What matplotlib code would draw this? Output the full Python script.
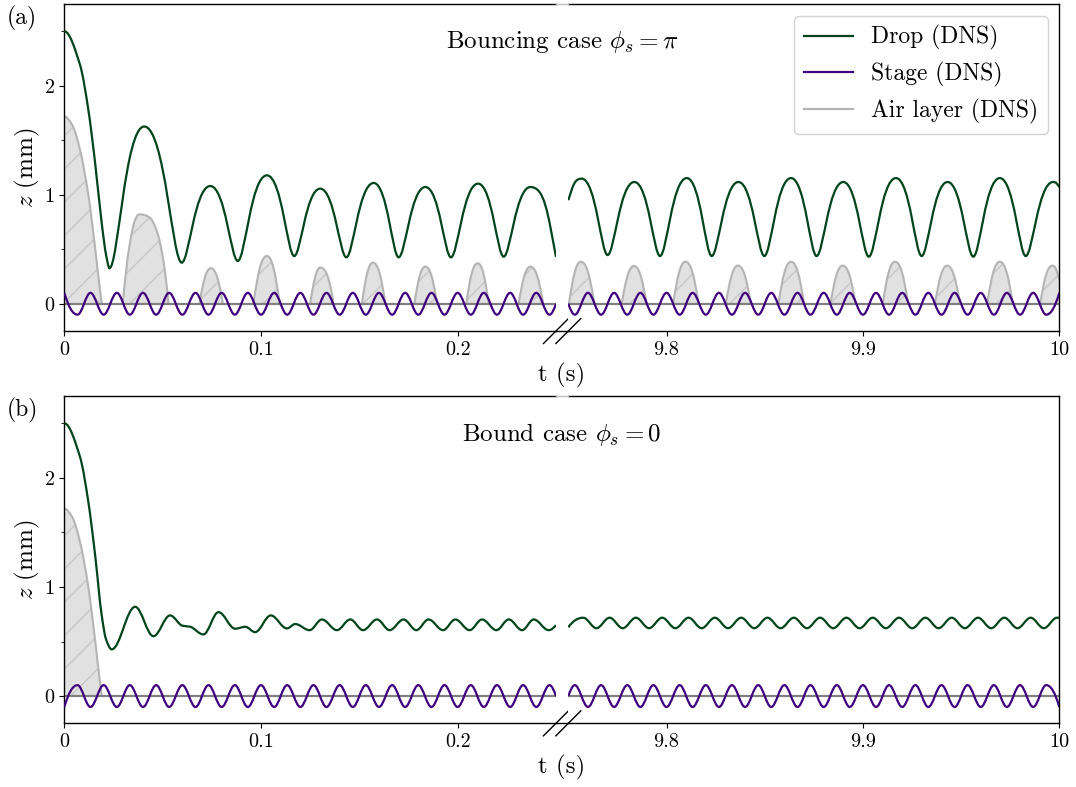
import numpy as np
import matplotlib
matplotlib.use("Agg")
import matplotlib.pyplot as plt
from matplotlib.path import Path
from matplotlib.patches import PathPatch
from matplotlib.lines import Line2D

plt.rcParams.update({
    "font.family": "serif",
    "font.serif": ["cmr10"],
    "mathtext.fontset": "cm",
    "axes.formatter.use_mathtext": True,
    "font.size": 18,
    "hatch.linewidth": 1.0,
})

# ---------------------------------------------------------------------------
# Data (t in s, z in mm)
# ---------------------------------------------------------------------------
# Bouncing case, early window: initial fall, then turning points
DROP_A_LEFT_T = [0.0, 0.008, 0.0122, 0.0156, 0.019, 0.0212, 0.0229, 0.0406,
                 0.0597, 0.0742, 0.0882, 0.1030, 0.1169, 0.1301, 0.1434,
                 0.1573, 0.1700, 0.1836, 0.1966, 0.2104, 0.2234, 0.2370,
                 0.2500]
DROP_A_LEFT_Z = [2.50, 2.19, 1.78, 1.30, 0.74, 0.45, 0.326, 1.626,
                 0.377, 1.080, 0.393, 1.178, 0.438, 1.056, 0.426,
                 1.108, 0.426, 1.071, 0.426, 1.102, 0.432, 1.071,
                 0.43]

# Bouncing case, late window
DROP_A_RIGHT_T = [9.7500, 9.7568, 9.7700, 9.7836, 9.7967, 9.8103, 9.8230,
                  9.8366, 9.8498, 9.8634, 9.8764, 9.8900, 9.9030, 9.9168,
                  9.9299, 9.9431, 9.9562, 9.9697, 9.9829, 9.9968, 10.0000]
DROP_A_RIGHT_Z = [0.95, 1.148, 0.447, 1.117, 0.438, 1.153, 0.438,
                  1.117, 0.438, 1.153, 0.438, 1.117, 0.432, 1.153,
                  0.438, 1.117, 0.432, 1.153, 0.438, 1.117, 1.07]

# Air layer thickness; consecutive zeros separate the flight phases
AIR_A_LEFT_T = [0.0, 0.004, 0.008, 0.0122, 0.0156, 0.0175, 0.0190,
                0.0297, 0.0330, 0.0360, 0.0380, 0.0415, 0.0440, 0.0475, 0.0505, 0.0530,
                0.0687, 0.0745, 0.0806,
                0.0962, 0.1030, 0.1095,
                0.1250, 0.1301, 0.1369,
                0.1513, 0.1569, 0.1632,
                0.1780, 0.1836, 0.1895,
                0.2044, 0.2102, 0.2158,
                0.2310, 0.2370, 0.2435]
AIR_A_LEFT_Z = [1.72, 1.64, 1.41, 1.00, 0.52, 0.22, 0.0,
                0.0, 0.52, 0.77, 0.82, 0.81, 0.78, 0.64, 0.38, 0.0,
                0.0, 0.326, 0.0,
                0.0, 0.438, 0.0,
                0.0, 0.332, 0.0,
                0.0, 0.377, 0.0,
                0.0, 0.341, 0.0,
                0.0, 0.371, 0.0,
                0.0, 0.341, 0.0]

AIR_A_RIGHT_T = [9.7503, 9.7563, 9.7632,
                 9.7772, 9.7834, 9.7898,
                 9.8034, 9.8096, 9.8163,
                 9.8302, 9.8364, 9.8429,
                 9.8570, 9.8634, 9.8700,
                 9.8835, 9.8897, 9.8962,
                 9.9101, 9.9163, 9.9230,
                 9.9367, 9.9429, 9.9494,
                 9.9633, 9.9697, 9.9763,
                 9.9903, 9.9965, 10.0]
AIR_A_RIGHT_Z = [0.0, 0.386, 0.0,
                 0.0, 0.347, 0.0,
                 0.0, 0.386, 0.0,
                 0.0, 0.350, 0.0,
                 0.0, 0.386, 0.0,
                 0.0, 0.350, 0.0,
                 0.0, 0.386, 0.0,
                 0.0, 0.350, 0.0,
                 0.0, 0.386, 0.0,
                 0.0, 0.350, 0.22]

# Bound case
DROP_B_LEFT_T = [0.0, 0.008, 0.0122, 0.0156, 0.019, 0.0212, 0.0241, 0.0360,
                 0.0453, 0.0538, 0.0600, 0.0640, 0.0707, 0.0784, 0.0869,
                 0.0920, 0.0970, 0.1050, 0.1132, 0.1174, 0.1247, 0.1310,
                 0.1386, 0.1454, 0.1519, 0.1590, 0.1654, 0.1725, 0.1790,
                 0.1852, 0.1926, 0.1988, 0.2061, 0.2124, 0.2197, 0.2260,
                 0.2328, 0.2387, 0.2463, 0.2500]
DROP_B_LEFT_Z = [2.50, 2.19, 1.78, 1.30, 0.74, 0.52, 0.428, 0.818,
                 0.549, 0.739, 0.645, 0.635, 0.565, 0.769, 0.617,
                 0.635, 0.586, 0.739, 0.620, 0.660, 0.604, 0.702,
                 0.604, 0.702, 0.604, 0.702, 0.604, 0.702, 0.604,
                 0.702, 0.604, 0.702, 0.604, 0.702, 0.604, 0.702,
                 0.604, 0.702, 0.604, 0.650]

DROP_B_RIGHT_T = [9.7500, 9.7576, 9.7643, 9.7710, 9.7777, 9.7844, 9.7911,
                  9.7978, 9.8045, 9.8112, 9.8179, 9.8246, 9.8313, 9.8380,
                  9.8447, 9.8514, 9.8581, 9.8648, 9.8715, 9.8782, 9.8849,
                  9.8916, 9.8983, 9.9050, 9.9117, 9.9184, 9.9251, 9.9318,
                  9.9385, 9.9452, 9.9519, 9.9586, 9.9653, 9.9720, 9.9787,
                  9.9854, 9.9921, 9.9988, 10.0]
DROP_B_RIGHT_Z = [0.63, 0.718, 0.622, 0.718, 0.622, 0.718, 0.622,
                  0.718, 0.622, 0.718, 0.622, 0.718, 0.622, 0.718,
                  0.622, 0.718, 0.622, 0.718, 0.622, 0.718, 0.622,
                  0.718, 0.622, 0.718, 0.622, 0.718, 0.622, 0.718,
                  0.622, 0.718, 0.622, 0.718, 0.622, 0.718, 0.622,
                  0.718, 0.622, 0.718, 0.717]

AIR_B_LEFT_T = [0.0, 0.004, 0.008, 0.0122, 0.0156, 0.0175, 0.0190]
AIR_B_LEFT_Z = [1.72, 1.64, 1.41, 1.00, 0.52, 0.22, 0.0]

# Stage: turning points of the shaken plate
STAGE_T_LEFT = [0.0000, 0.0067, 0.0133, 0.0200, 0.0267, 0.0333, 0.0400, 0.0467,
                0.0533, 0.0600, 0.0667, 0.0733, 0.0800, 0.0867, 0.0933, 0.1000,
                0.1067, 0.1133, 0.1200, 0.1267, 0.1333, 0.1400, 0.1467, 0.1533,
                0.1600, 0.1667, 0.1733, 0.1800, 0.1867, 0.1933, 0.2000, 0.2067,
                0.2133, 0.2200, 0.2267, 0.2333, 0.2400, 0.2467, 0.2500]
STAGE_T_RIGHT = [9.7500, 9.7533, 9.7600, 9.7667, 9.7733, 9.7800, 9.7867, 9.7933,
                 9.8000, 9.8067, 9.8133, 9.8200, 9.8267, 9.8333, 9.8400, 9.8467,
                 9.8533, 9.8600, 9.8667, 9.8733, 9.8800, 9.8867, 9.8933, 9.9000,
                 9.9067, 9.9133, 9.9200, 9.9267, 9.9333, 9.9400, 9.9467, 9.9533,
                 9.9600, 9.9667, 9.9733, 9.9800, 9.9867, 9.9933, 10.0000]
STAGE_A_LEFT_Z = [0.1, -0.1, 0.1, -0.1, 0.1, -0.1, 0.1, -0.1,
                  0.1, -0.1, 0.1, -0.1, 0.1, -0.1, 0.1, -0.1,
                  0.1, -0.1, 0.1, -0.1, 0.1, -0.1, 0.1, -0.1,
                  0.1, -0.1, 0.1, -0.1, 0.1, -0.1, 0.1, -0.1,
                  0.1, -0.1, 0.1, -0.1, 0.1, -0.1, 0.0]
STAGE_A_RIGHT_Z = [0.0, -0.1, 0.1, -0.1, 0.1, -0.1, 0.1, -0.1,
                   0.1, -0.1, 0.1, -0.1, 0.1, -0.1, 0.1, -0.1,
                   0.1, -0.1, 0.1, -0.1, 0.1, -0.1, 0.1, -0.1,
                   0.1, -0.1, 0.1, -0.1, 0.1, -0.1, 0.1, -0.1,
                   0.1, -0.1, 0.1, -0.1, 0.1, -0.1, 0.1]
STAGE_B_LEFT_Z = [-0.1, 0.1, -0.1, 0.1, -0.1, 0.1, -0.1, 0.1,
                  -0.1, 0.1, -0.1, 0.1, -0.1, 0.1, -0.1, 0.1,
                  -0.1, 0.1, -0.1, 0.1, -0.1, 0.1, -0.1, 0.1,
                  -0.1, 0.1, -0.1, 0.1, -0.1, 0.1, -0.1, 0.1,
                  -0.1, 0.1, -0.1, 0.1, -0.1, 0.1, 0.0]
STAGE_B_RIGHT_Z = [0.0, 0.1, -0.1, 0.1, -0.1, 0.1, -0.1, 0.1,
                   -0.1, 0.1, -0.1, 0.1, -0.1, 0.1, -0.1, 0.1,
                   -0.1, 0.1, -0.1, 0.1, -0.1, 0.1, -0.1, 0.1,
                   -0.1, 0.1, -0.1, 0.1, -0.1, 0.1, -0.1, 0.1,
                   -0.1, 0.1, -0.1, 0.1, -0.1, 0.1, -0.1]

PANEL_TAGS = ["(a)", "(b)"]
PANEL_TITLES = [r"Bouncing case $\phi_s = \pi$", r"Bound case $\phi_s = 0$"]
LEGEND_LABELS = ["Drop (DNS)", "Stage (DNS)", "Air layer (DNS)"]
LEFT_TICKS, LEFT_TICKLABELS = [0.0, 0.1, 0.2], ["0", "0.1", "0.2"]
RIGHT_TICKS, RIGHT_TICKLABELS = [9.8, 9.9, 10.0], ["9.8", "9.9", "10"]

C_DROP = "#00441b"
C_STAGE = "#3f007d"
C_AIR = "#b4b4b4"
C_FILL = "#e1e1e1"
C_HATCH = "#c6c6c6"
C_ZERO = "#808080"


# ---------------------------------------------------------------------------
# Smooth curves through the listed points, rendered by matplotlib as cubic
# Bezier segments.  Tangents are horizontal at turning points; the handle
# length there sets how broad a crest (top) or a trough (bottom) is drawn.
# ---------------------------------------------------------------------------
def _tangents(x, y):
    h = np.diff(x)
    d = np.diff(y) / h
    n = len(x)
    m = np.zeros(n)
    if n == 2:
        m[:] = d[0]
        return m
    for k in range(1, n - 1):
        if d[k - 1] * d[k] > 0:
            w1 = 2 * h[k] + h[k - 1]
            w2 = h[k] + 2 * h[k - 1]
            m[k] = (w1 + w2) / (w1 / d[k - 1] + w2 / d[k])

    def end(h0, h1, d0, d1):
        s = ((2 * h0 + h1) * d0 - h0 * d1) / (h0 + h1)
        if np.sign(s) != np.sign(d0):
            return 0.0
        if np.sign(d0) != np.sign(d1) and abs(s) > abs(3 * d0):
            return 3 * d0
        return s

    m[0] = end(h[0], h[1], d[0], d[1])
    m[-1] = end(h[-1], h[-2], d[-1], d[-2])
    return m


def curve_path(t, z, top=1 / 3, bottom=1 / 3, base=None):
    t = np.asarray(t, float)
    z = np.asarray(z, float)
    n = len(t)
    m = _tangents(t, z)
    handle = np.full(n, 1 / 3)
    for k in range(1, n - 1):
        if z[k] > z[k - 1] and z[k] > z[k + 1]:
            handle[k] = top
        elif z[k] < z[k - 1] and z[k] < z[k + 1]:
            handle[k] = bottom
    verts = [(t[0], z[0])]
    codes = [Path.MOVETO]
    for i in range(n - 1):
        h = t[i + 1] - t[i]
        a0, a1 = handle[i] * h, handle[i + 1] * h
        verts += [(t[i] + a0, z[i] + m[i] * a0),
                  (t[i + 1] - a1, z[i + 1] - m[i + 1] * a1),
                  (t[i + 1], z[i + 1])]
        codes += [Path.CURVE4] * 3
    if base is not None:
        verts += [(t[-1], base), (t[0], base), (t[0], z[0])]
        codes += [Path.LINETO, Path.LINETO, Path.CLOSEPOLY]
    return Path(verts, codes)


def draw_curve(ax, t, z, color, lw, zorder, top=1 / 3, bottom=1 / 3):
    ax.add_patch(PathPatch(curve_path(t, z, top, bottom), fill=False,
                           edgecolor=color, lw=lw, zorder=zorder,
                           capstyle="butt"))


def draw_air(ax, t, z):
    segments, cur = [], [0]
    for i in range(1, len(t)):
        if z[i] == 0 and z[i - 1] == 0:
            segments.append(cur)
            cur = [i]
        else:
            cur.append(i)
    segments.append(cur)
    for seg in segments:
        ts = [t[j] for j in seg]
        zs = [z[j] for j in seg]
        ax.add_patch(PathPatch(curve_path(ts, zs, 0.4, 1 / 3, base=0.0),
                               facecolor=C_FILL, edgecolor=C_HATCH, lw=0,
                               hatch="/", zorder=1))
        draw_curve(ax, ts, zs, C_AIR, 1.5, 1.5, top=0.4)


# ---------------------------------------------------------------------------
# Figure layout: two rows, each split into an early and a late time window
# ---------------------------------------------------------------------------
fig = plt.figure(figsize=(10.76, 7.87), dpi=100)
L_X0, L_W = 0.0598, 0.4569
R_X0, R_W = 0.5282, 0.4563
ROWS = [(0.5794, 0.4155), (0.0809, 0.4159)]

panels = [
    dict(drop=[(DROP_A_LEFT_T, DROP_A_LEFT_Z), (DROP_A_RIGHT_T, DROP_A_RIGHT_Z)],
         shape=(0.55, 0.25),
         stage=[(STAGE_T_LEFT, STAGE_A_LEFT_Z), (STAGE_T_RIGHT, STAGE_A_RIGHT_Z)],
         air=[(AIR_A_LEFT_T, AIR_A_LEFT_Z), (AIR_A_RIGHT_T, AIR_A_RIGHT_Z)]),
    dict(drop=[(DROP_B_LEFT_T, DROP_B_LEFT_Z), (DROP_B_RIGHT_T, DROP_B_RIGHT_Z)],
         shape=(0.36, 0.36),
         stage=[(STAGE_T_LEFT, STAGE_B_LEFT_Z), (STAGE_T_RIGHT, STAGE_B_RIGHT_Z)],
         air=[(AIR_B_LEFT_T, AIR_B_LEFT_Z), None]),
]

for row, ((y0, hgt), pdata) in enumerate(zip(ROWS, panels)):
    axl = fig.add_axes([L_X0, y0, L_W, hgt])
    axr = fig.add_axes([R_X0, y0, R_W, hgt])

    for k, ax in enumerate((axl, axr)):
        ax.set_ylim(-0.25, 2.75)
        ax.axhline(0.0, color=C_ZERO, lw=1.6, zorder=2)
        air = pdata["air"][k]
        if air is not None:
            draw_air(ax, *air)
        draw_curve(ax, *pdata["drop"][k], C_DROP, 1.6, 3, *pdata["shape"])
        draw_curve(ax, *pdata["stage"][k], C_STAGE, 1.6, 3.2, 0.36, 0.36)
        for sp in ax.spines.values():
            sp.set_linewidth(1.0)
        ax.tick_params(labelsize=14.5)

    axl.set_xlim(0.0, 0.25)
    axr.set_xlim(9.75, 10.0)
    axl.set_xticks(LEFT_TICKS, LEFT_TICKLABELS)
    axr.set_xticks(RIGHT_TICKS, RIGHT_TICKLABELS)
    axl.set_yticks([0, 1, 2], ["0", "1", "2"])
    axl.set_yticks([0.5, 1.5, 2.5], minor=True)
    axr.set_yticks([])
    axl.spines["right"].set_visible(False)
    axr.spines["left"].set_visible(False)

    # join the frame across the gap
    top = y0 + hgt
    fig.add_artist(Line2D([L_X0 + L_W, R_X0], [y0, y0], color="black", lw=1.0,
                          transform=fig.transFigure))
    fig.add_artist(Line2D([L_X0 + L_W, R_X0], [top, top], color="#bdbdbd", lw=1.0,
                          transform=fig.transFigure))

    # break marks
    dx = 12.5 / (L_W * 1076)
    dy = 12.5 / (hgt * 787)
    axl.plot([1 - dx, 1 + dx], [-dy, dy], transform=axl.transAxes,
             color="black", lw=1.0, clip_on=False)
    axr.plot([-dx, dx], [-dy, dy], transform=axr.transAxes,
             color="black", lw=1.0, clip_on=False)

    # labels
    fig.text(562 / 1076, top - 38 / 787, PANEL_TITLES[row], ha="center",
             va="center", fontsize=18)
    fig.text(7 / 1076, top - 14 / 787, PANEL_TAGS[row], ha="left",
             va="center", fontsize=17)
    fig.text(562 / 1076, y0 - 44 / 787, "t (s)", ha="center", va="center",
             fontsize=18)
    fig.text(27 / 1076, y0 + hgt / 2, "$z$ (mm)", ha="center", va="center",
             rotation=90, fontsize=18)

    if row == 0:
        handles = [Line2D([], [], color=C_DROP, lw=1.6),
                   Line2D([], [], color=C_STAGE, lw=1.6),
                   Line2D([], [], color=C_AIR, lw=1.6)]
        axr.legend(handles, LEGEND_LABELS, loc="upper right", fontsize=17,
                   handlelength=2.1, handletextpad=0.75, borderaxespad=0.5,
                   framealpha=0.85, edgecolor="#cccccc")

fig.savefig("out.png", dpi=100)
